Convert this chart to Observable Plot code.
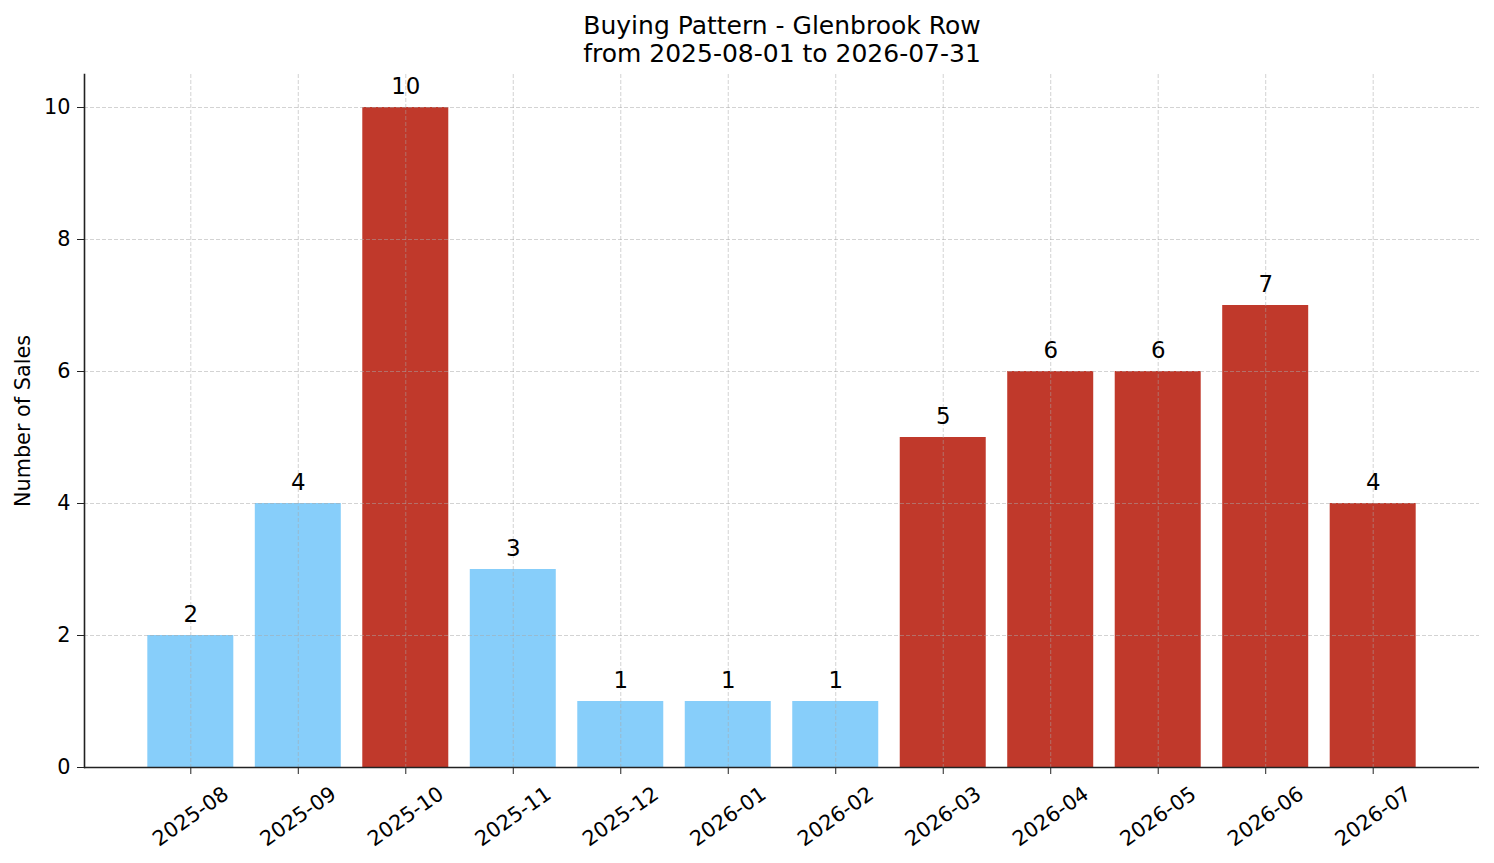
<!DOCTYPE html>
<html>
<head>
<meta charset="utf-8">
<script src="https://cdn.jsdelivr.net/npm/d3@7"></script>
<script src="https://cdn.jsdelivr.net/npm/@observablehq/plot@0.6"></script>
<style>
  html, body { margin: 0; padding: 0; background: #fff; }
</style>
</head>
<body>
<div id="chart"></div>
<script>
const months = ["2025-08","2025-09","2025-10","2025-11","2025-12","2026-01","2026-02","2026-03","2026-04","2026-05","2026-06","2026-07"];
const sales = [2, 4, 10, 3, 1, 1, 1, 5, 6, 6, 7, 4];
const groups = ["Normal","Normal","Peak","Normal","Normal","Normal","Normal","Peak","Peak","Peak","Peak","Peak"];
const groupNames = ["Normal", "Peak"];
const groupColors = ["#87CEFA", "#C0392B"];
const yTicks = [0, 2, 4, 6, 8, 10];
const titleLines = ["Buying Pattern - Glenbrook Row", "from 2025-08-01 to 2026-07-31"];
const yLabel = "Number of Sales";

const data = months.map((m, i) => ({month: m, sales: sales[i], group: groups[i]}));

const font = "DejaVu Sans, sans-serif";
const gridStyle = {stroke: "#a8a8a8", strokeOpacity: 0.5, strokeWidth: 1, strokeDasharray: "4,2"};

const chart = Plot.plot({
  width: 1494,
  height: 863,
  marginLeft: 84,
  marginRight: 15,
  marginTop: 74,
  marginBottom: 96,
  style: {fontFamily: font, fontSize: "20.8px", background: "#fff", color: "#000"},
  x: {type: "band", domain: months, paddingInner: 0.2, paddingOuter: 0.589, round: false, axis: null, label: null},
  y: {domain: [0, 10.5], axis: null, label: null},
  color: {domain: groupNames, range: groupColors},
  marks: [
    Plot.barY(data, {x: "month", y: "sales", fill: "group"}),
    Plot.gridY(yTicks, gridStyle),
    Plot.gridX(months, gridStyle),
    Plot.axisY(yTicks, {tickSize: 7, tickPadding: 7, fontSize: 20.8, stroke: "#222", label: null, tickFormat: d3.format("d")}),
    Plot.axisX(months, {tickSize: 7, tickPadding: 42, tickRotate: -35, textAnchor: "middle", lineAnchor: "middle", fontSize: 20.8, stroke: "#222", label: null}),
    Plot.ruleY([0], {stroke: "#222", strokeWidth: 1.6}),
    Plot.frame({anchor: "left", stroke: "#222", strokeWidth: 1.6}),
    Plot.text(data, {x: "month", y: "sales", text: d => String(d.sales), dy: -21, lineAnchor: "middle", fontSize: 22.9, fill: "#000"}),
    Plot.text([titleLines[0]], {frameAnchor: "top", dy: -49, lineAnchor: "middle", fontSize: 25, fill: "#000"}),
    Plot.text([titleLines[1]], {frameAnchor: "top", dy: -21, lineAnchor: "middle", fontSize: 25, fill: "#000"}),
    Plot.text([yLabel], {frameAnchor: "left", dx: -61, rotate: -90, textAnchor: "middle", lineAnchor: "middle", fontSize: 20.8, fill: "#000"})
  ]
});
document.getElementById("chart").appendChild(chart);
</script>
</body>
</html>
